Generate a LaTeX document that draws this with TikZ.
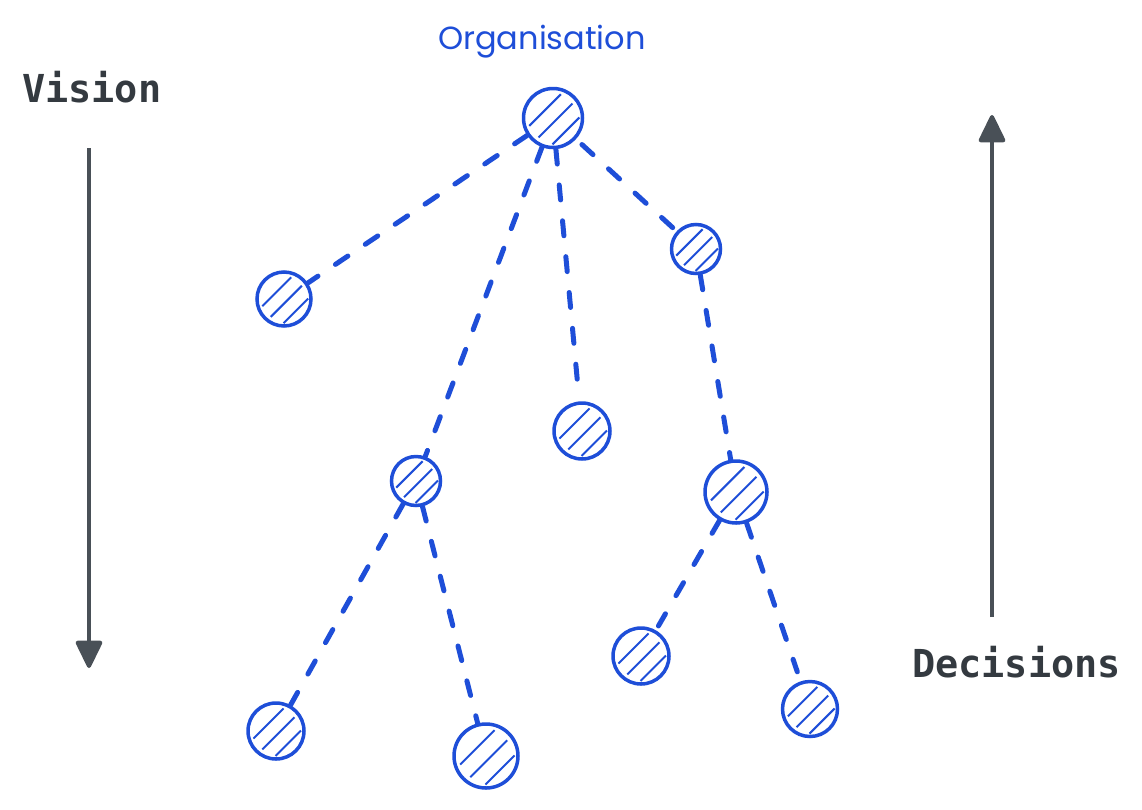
\documentclass[tikz,border=0pt]{standalone}
\usepackage{fontspec}
\newfontfamily\monofont{DejaVu Sans Mono}
\newfontfamily\handfont{Poppins}
\usetikzlibrary{arrows.meta,calc}
\definecolor{blu}{RGB}{30,78,216}
\definecolor{arrgray}{RGB}{73,80,87}
\definecolor{txtgray}{RGB}{52,58,64}
\tikzset{
  hn/.style={circle, draw=blu, line width=3.5pt, minimum size=#1pt, inner sep=0pt,
    path picture={
      \foreach \oo in {-0.38,0.12,0.62}{
        \pgfmathsetmacro\hh{#1*0.5*sqrt(1-\oo*\oo)*0.82}
        \pgfmathsetmacro\pp{\oo*#1*0.5}
        \draw[blu, line width=2pt]
          ($(path picture bounding box.center)+({(\pp-\hh)*0.7071pt},{(-\pp-\hh)*0.7071pt})$) --
          ($(path picture bounding box.center)+({(\pp+\hh)*0.7071pt},{(-\pp+\hh)*0.7071pt})$);
      }
    }},
  edge/.style={blu, line width=5pt, line cap=round, dash pattern=on 15pt off 21pt},
  bigarrow/.style={arrgray, line width=4pt, -{Triangle[length=30pt,width=28pt,round]}},
  label/.style={font=\monofont\bfseries\fontsize{38.5}{40}\selectfont, text=txtgray, anchor=base west, inner sep=0pt},
}
\begin{document}
\begin{tikzpicture}[x=1pt, y=-1pt]
\useasboundingbox (0,0) rectangle (1142,809);
% nodes
\node[hn=59] (root) at (553,118) {};
\node[hn=54] (A) at (284,299) {};
\node[hn=49] (B) at (416,481) {};
\node[hn=56] (C) at (582,431) {};
\node[hn=49] (D) at (696,249) {};
\node[hn=62] (E) at (736,492) {};
\node[hn=56] (F) at (276,731) {};
\node[hn=64] (G) at (486,756) {};
\node[hn=56] (H) at (641,656) {};
\node[hn=55] (I) at (810,709) {};
% edges
\draw[edge] (root) -- (A);
\draw[edge] (root) -- (B);
\draw[edge, shorten >=17pt] (root) -- (C);
\draw[edge, shorten <=8pt] (root) -- (D);
\draw[edge] (D) -- (E);
\draw[edge] (B) -- (F);
\draw[edge] (B) -- (G);
\draw[edge, shorten >=5pt] (E) -- (H);
\draw[edge, shorten >=10pt] (E) -- (I);
% title
\node[text=blu, font=\handfont\fontsize{32}{36}\selectfont, inner sep=0pt] (title) at (542,42) {Organisation};
% side labels and arrows
\node[label] (vision) at (22,102) {Vision};
\node[label] (decisions) at (912,677) {Decisions};
\coordinate (v1) at (89,148);
\coordinate (v2) at (89,668);
\coordinate (d1) at (992,617);
\coordinate (d2) at (992,115);
\draw[bigarrow] (v1) -- (v2);
\draw[bigarrow] (d1) -- (d2);
\end{tikzpicture}
\end{document}
